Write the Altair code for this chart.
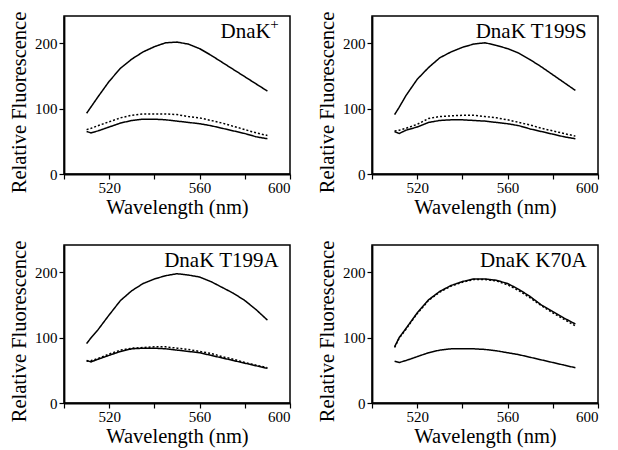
import altair as alt
import pandas as pd

wavelengths = [510, 512, 515, 520, 525, 530, 535, 540, 545, 550, 555, 560, 565, 570, 575, 580, 585, 590]

panel_labels = ["DnaK", "DnaK T199S", "DnaK T199A", "DnaK K70A"]
panel_superscripts = ["+", "", "", ""]

dnak_high = [93, 103, 118, 142, 162, 176, 187, 195, 201, 202, 199, 192, 182, 171, 160, 149, 138, 127]
dnak_low = [65, 63, 66, 72, 78, 82, 84, 84, 83, 81, 79, 77, 74, 70, 66, 62, 57, 54]
dnak_dot = [68, 70, 74, 80, 86, 90, 92, 92, 92, 91, 88, 86, 82, 78, 73, 68, 63, 59]

t199s_high = [91, 102, 120, 145, 163, 178, 187, 194, 199, 201, 197, 192, 185, 175, 164, 152, 140, 128]
t199s_low = [65, 62, 67, 72, 79, 82, 83, 83, 82, 81, 79, 77, 74, 69, 65, 61, 57, 54]
t199s_dot = [66, 67, 70, 76, 85, 88, 89, 90, 90, 88, 86, 83, 79, 75, 70, 66, 62, 58]

t199a_high = [91, 100, 112, 135, 157, 172, 183, 190, 195, 198, 196, 193, 186, 177, 168, 157, 143, 127]
t199a_low = [65, 63, 67, 73, 79, 83, 84, 84, 83, 81, 79, 77, 73, 69, 65, 61, 57, 53]
t199a_dot = [64, 65, 68, 75, 81, 84, 85, 86, 86, 84, 82, 79, 76, 71, 67, 62, 58, 54]

k70a_high = [86, 100, 114, 138, 158, 171, 180, 186, 190, 190, 188, 183, 174, 163, 150, 140, 130, 121]
k70a_low = [64, 62, 65, 71, 77, 81, 83, 83, 83, 82, 80, 77, 74, 70, 66, 62, 58, 54]
k70a_dot = [85, 99, 113, 137, 157, 170, 179, 185, 189, 189, 187, 181, 172, 161, 149, 138, 128, 118]

series_sets = [
    (dnak_high, dnak_low, dnak_dot),
    (t199s_high, t199s_low, t199s_dot),
    (t199a_high, t199a_low, t199a_dot),
    (k70a_high, k70a_low, k70a_dot),
]

FONT = "Liberation Serif"
W, H = 226, 158


def panel(label, sup, sets):
    rows = []
    for name, vals in zip(["high", "low", "dot"], sets):
        for w, v in zip(wavelengths, vals):
            rows.append({"wl": w, "v": v, "series": name})
    df = pd.DataFrame(rows)
    x = alt.X(
        "wl:Q",
        title="Wavelength (nm)",
        scale=alt.Scale(domain=[500, 600], nice=False, zero=False),
        axis=alt.Axis(
            values=[500, 520, 540, 560, 580, 600],
            labelExpr="(datum.value == 520 || datum.value == 560 || datum.value == 600) ? datum.label : ''",
        ),
    )
    y = alt.Y(
        "v:Q",
        title="Relative Fluorescence",
        scale=alt.Scale(domain=[0, 242], nice=False),
        axis=alt.Axis(values=[0, 100, 200], titleY=H / 2 + 7),
    )
    lines = alt.Chart(df).mark_line(color="black", strokeWidth=1.5).encode(
        x=x,
        y=y,
        detail="series:N",
        strokeDash=alt.StrokeDash(
            "series:N",
            scale=alt.Scale(domain=["high", "low", "dot"], range=[[1, 0], [1, 0], [2, 2]]),
            legend=None,
        ),
    )
    lab_df = pd.DataFrame({"t": [label], "s": [sup], "wl": [595], "v": [209]})
    lab = alt.Chart(lab_df).mark_text(
        font=FONT, fontSize=21, align="right", baseline="alphabetic", color="black",
        dx=-8 if sup else 0,
    ).encode(x="wl:Q", y="v:Q", text="t:N")
    layers = [lines, lab]
    if sup:
        sup_mark = alt.Chart(lab_df).mark_text(
            font=FONT, fontSize=15, align="right", baseline="alphabetic", color="black",
            dy=-9,
        ).encode(x="wl:Q", y="v:Q", text="s:N")
        layers.append(sup_mark)
    return alt.layer(*layers).properties(width=W, height=H)


p = [panel(l, s, d) for l, s, d in zip(panel_labels, panel_superscripts, series_sets)]

chart = alt.vconcat(
    alt.hconcat(p[0], p[1], spacing=24),
    alt.hconcat(p[2], p[3], spacing=24),
    spacing=20,
).properties(
    padding={"left": 0, "top": 2, "right": 0, "bottom": 0}
).configure_view(
    stroke="black", strokeWidth=1.5
).configure_axis(
    grid=False,
    domainColor="black",
    domainWidth=1.8,
    tickColor="black",
    tickSize=5,
    tickWidth=1.2,
    labelFont=FONT,
    labelFontSize=15,
    labelColor="black",
    titleFont=FONT,
    titleFontSize=20.5,
    titleFontWeight="normal",
    titleColor="black",
).configure_axisY(
    titlePadding=5, labelPadding=2
).configure_axisX(
    titlePadding=2, labelPadding=1
)

chart.save("out.html", embed_options={"renderer": "svg", "actions": False})
